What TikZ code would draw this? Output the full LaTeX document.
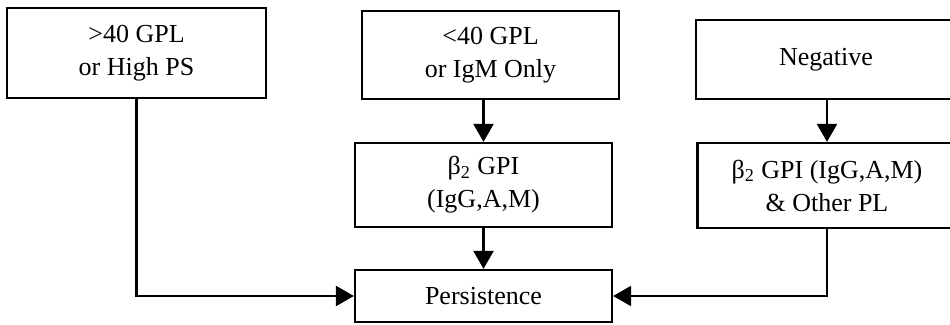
\documentclass[tikz,border=0pt]{standalone}
\usepackage{fontspec}
\setmainfont{Liberation Serif}
\usetikzlibrary{arrows.meta}
\begin{document}
\begin{tikzpicture}[
        x=0.5pt, y=-0.5pt,
        every node/.style={
        draw,
        line width=1.1pt,
        align=center,
        inner sep=0pt,
        shape=rectangle,
        font=\fontsize{13}{16.5}\selectfont,
        },
        link/.style={line width=1.1pt},
        arr/.style={link, -{Triangle[width=10pt,length=9pt]}}
      ]
        \useasboundingbox (0, 0) rectangle (950, 325);

        \node[minimum width=129.5pt, minimum height=45pt] (high) at (136.5, 53) {>40 GPL\\or High PS};
        \node[minimum width=128.5pt, minimum height=44pt] (low) at (490.5, 55) {<40 GPL\\or IgM Only};
        \node[minimum width=130pt, minimum height=39.5pt] (neg) at (826, 59.5) {Negative};
        \node[minimum width=128.5pt, minimum height=42pt] (gpi) at (483.5, 185) {β\textsubscript{2} GPI\\(IgG,A,M)};
        \node[minimum width=129.5pt, minimum height=42.5pt] (other) at (827, 185.5) {β\textsubscript{2} GPI (IgG,A,M)\\\& Other PL};
        \node[minimum width=128.5pt, minimum height=26pt] (pers) at (483.5, 296) {Persistence};

        \draw[arr] (low.south -| gpi.north) -- (gpi.north);
        \draw[arr] (gpi) -- (pers);
        \draw[arr] (neg.south -| other.north) -- (other.north);

        \draw[arr] (high.south) |- (pers.west);
        \draw[arr] (other.south) |- (pers.east);
      \end{tikzpicture}
\end{document}
